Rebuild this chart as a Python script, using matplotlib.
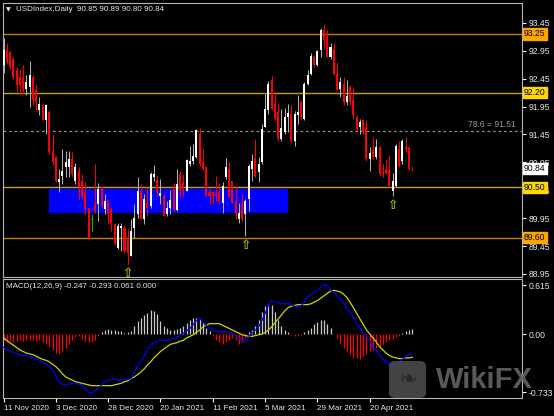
import matplotlib
matplotlib.use("Agg")
import matplotlib.pyplot as plt
import matplotlib.transforms as mtransforms
from matplotlib.patches import Rectangle, FancyBboxPatch

plt.rcParams['font.family'] = ['Liberation Sans', 'DejaVu Sans']

# ---------------- data ----------------
opens = [92.69, 92.96, 92.93, 92.81, 92.60, 92.48, 92.48, 92.27, 92.30, 92.48,
         92.24, 91.89, 91.97, 91.70, 91.85, 91.16, 91.04, 90.59, 90.71, 90.86,
         90.86, 91.01, 90.62, 90.80, 90.62, 90.41, 90.14, 89.92, 90.20, 90.20,
         90.50, 90.11, 90.26, 90.11, 89.84, 89.42, 89.78, 89.78, 89.60, 89.27,
         89.78, 90.02, 90.44, 89.93, 90.23, 90.17, 90.68, 90.64, 90.34, 90.35,
         90.03, 90.14, 90.53, 90.09, 90.74, 90.59, 90.44, 90.92, 90.98, 91.05,
         91.46, 90.95, 90.86, 90.41, 90.41, 90.38, 90.41, 90.23, 90.68, 90.83,
         90.62, 90.26, 89.93, 90.20, 90.02, 90.29, 90.83, 91.03, 90.77, 90.95,
         91.59, 91.88, 92.42, 92.00, 91.85, 91.37, 91.49, 91.76, 91.82, 91.33,
         91.79, 92.03, 91.73, 92.36, 92.54, 92.84, 92.69, 92.96, 93.33, 93.20,
         92.84, 92.99, 92.54, 92.27, 92.36, 92.03, 92.30, 92.06, 91.76, 91.59,
         91.70, 91.58, 91.01, 91.17, 91.04, 91.23, 90.77, 90.83, 90.81, 90.44,
         90.53, 91.19, 90.98, 91.22, 91.22, 90.85]
highs = [93.17, 93.09, 92.97, 92.84, 92.66, 92.63, 92.69, 92.51, 92.76, 92.51,
         92.33, 92.12, 92.00, 92.00, 91.88, 91.46, 91.07, 90.83, 91.19, 91.16,
         91.16, 91.13, 90.93, 90.86, 90.74, 90.59, 90.14, 90.02, 90.92, 90.58,
         90.53, 90.38, 90.29, 90.14, 89.87, 89.87, 89.87, 89.81, 89.75, 89.93,
         90.20, 90.68, 90.56, 90.38, 90.50, 90.77, 90.91, 90.71, 90.65, 90.38,
         90.26, 90.46, 90.56, 90.83, 90.80, 90.74, 91.01, 91.25, 91.27, 91.55,
         91.57, 91.19, 90.86, 90.47, 90.44, 90.71, 90.56, 90.59, 91.03, 90.95,
         90.62, 90.53, 90.23, 90.38, 90.29, 90.92, 91.10, 91.37, 91.04, 91.64,
         92.18, 92.41, 92.49, 92.21, 92.00, 91.91, 91.93, 92.00, 91.97, 91.87,
         92.15, 92.06, 92.39, 92.60, 92.91, 92.87, 92.96, 93.35, 93.43, 93.32,
         93.08, 93.08, 92.75, 92.48, 92.48, 92.42, 92.33, 92.30, 91.79, 91.73,
         91.70, 91.70, 91.22, 91.40, 91.37, 91.25, 90.92, 90.99, 91.07, 90.75,
         91.27, 91.34, 91.37, 91.40, 91.23, 90.89]
lows = [92.55, 92.72, 92.63, 92.45, 92.21, 92.15, 92.18, 92.15, 91.95, 91.97,
        91.87, 91.79, 91.70, 91.46, 91.10, 90.92, 90.59, 90.41, 90.56, 90.68,
        90.68, 90.68, 90.56, 90.29, 90.29, 90.02, 89.57, 89.72, 90.05, 89.90,
        90.14, 90.02, 89.84, 89.72, 89.47, 89.39, 89.36, 89.33, 89.12, 89.27,
        89.60, 89.96, 89.93, 89.85, 89.99, 90.14, 90.62, 90.35, 90.20, 89.99,
        89.99, 90.02, 90.08, 90.08, 90.32, 90.32, 90.44, 90.89, 90.92, 91.03,
        90.89, 90.82, 90.35, 90.20, 90.20, 90.26, 90.20, 90.05, 90.65, 90.32,
        90.23, 89.93, 89.87, 89.90, 89.63, 90.08, 90.62, 90.68, 90.59, 90.92,
        91.58, 91.82, 91.88, 91.70, 91.33, 91.34, 91.46, 91.49, 91.31, 91.25,
        91.63, 91.73, 91.71, 92.33, 92.51, 92.66, 92.67, 92.84, 92.99, 92.84,
        92.81, 92.51, 92.24, 92.12, 91.97, 91.97, 91.97, 91.73, 91.52, 91.46,
        91.46, 90.98, 90.79, 91.01, 91.01, 90.73, 90.68, 90.74, 90.50, 90.35,
        90.51, 90.86, 90.92, 91.13, 90.81, 90.80]
closes = [92.96, 92.75, 92.66, 92.48, 92.33, 92.33, 92.27, 92.39, 92.51, 92.06,
          92.03, 91.99, 91.70, 91.97, 91.13, 90.95, 90.62, 90.65, 90.80, 90.95,
          91.01, 90.74, 90.86, 90.50, 90.32, 90.11, 89.60, 89.92, 90.08, 90.47,
          90.17, 90.26, 90.02, 89.87, 89.48, 89.81, 89.81, 89.36, 89.33, 89.72,
          89.96, 90.44, 89.93, 90.29, 90.14, 90.74, 90.74, 90.41, 90.40, 89.99,
          90.14, 90.28, 90.11, 90.56, 90.44, 90.47, 91.00, 90.98, 91.06, 91.53,
          90.92, 90.83, 90.35, 90.34, 90.35, 90.35, 90.26, 90.53, 90.86, 90.32,
          90.23, 90.02, 90.05, 89.93, 90.26, 90.89, 90.98, 90.71, 90.92, 91.55,
          91.91, 92.35, 91.91, 91.73, 91.37, 91.57, 91.76, 91.83, 91.33, 91.82,
          91.85, 91.76, 92.36, 92.52, 92.85, 92.69, 92.95, 93.32, 93.15, 92.84,
          93.01, 92.54, 92.24, 92.39, 92.03, 92.13, 92.03, 91.79, 91.55, 91.67,
          91.49, 91.01, 91.11, 91.04, 91.22, 90.74, 90.74, 90.75, 90.52, 90.62,
          91.25, 90.89, 91.34, 91.19, 90.83, 90.84]

macd_line = [-0.17, -0.20, -0.22, -0.23, -0.25, -0.26, -0.27, -0.27, -0.28, -0.30,
             -0.31, -0.33, -0.35, -0.38, -0.41, -0.45, -0.52, -0.60, -0.63, -0.64,
             -0.63, -0.62, -0.62, -0.63, -0.64, -0.68, -0.73, -0.74, -0.72, -0.68,
             -0.64, -0.60, -0.58, -0.57, -0.57, -0.58, -0.58, -0.57, -0.57, -0.56,
             -0.48, -0.40, -0.34, -0.28, -0.20, -0.15, -0.11, -0.09, -0.08, -0.08,
             -0.08, -0.07, -0.06, -0.04, -0.01, 0.01, 0.04, 0.07, 0.12, 0.17,
             0.20, 0.15, 0.11, 0.08, 0.05, 0.04, 0.03, 0.03, 0.03, 0.02,
             0.01, -0.02, -0.05, -0.08, -0.10, -0.04, 0.01, 0.05, 0.09, 0.17,
             0.26, 0.36, 0.42, 0.40, 0.39, 0.38, 0.38, 0.39, 0.37, 0.35,
             0.34, 0.35, 0.40, 0.47, 0.50, 0.52, 0.55, 0.59, 0.62, 0.61,
             0.56, 0.52, 0.48, 0.44, 0.39, 0.33, 0.27, 0.21, 0.14, 0.07,
             0.02, -0.03, -0.09, -0.16, -0.21, -0.26, -0.31, -0.35, -0.38, -0.39,
             -0.38, -0.35, -0.32, -0.28, -0.26, -0.247]
signal_line = [-0.05, -0.08, -0.11, -0.14, -0.17, -0.20, -0.22, -0.24, -0.25, -0.26,
               -0.28, -0.30, -0.32, -0.33, -0.35, -0.38, -0.41, -0.45, -0.50, -0.54,
               -0.56, -0.58, -0.60, -0.61, -0.62, -0.63, -0.64, -0.65, -0.65, -0.65,
               -0.65, -0.65, -0.65, -0.65, -0.64, -0.63, -0.62, -0.60, -0.59, -0.56,
               -0.54, -0.51, -0.48, -0.44, -0.39, -0.35, -0.30, -0.26, -0.22, -0.19,
               -0.16, -0.13, -0.12, -0.11, -0.09, -0.08, -0.05, -0.03, -0.01, 0.02,
               0.05, 0.09, 0.11, 0.13, 0.13, 0.13, 0.13, 0.11, 0.09, 0.07,
               0.05, 0.03, 0.01, -0.01, -0.02, -0.03, -0.03, -0.02, -0.01, 0.00,
               0.02, 0.05, 0.09, 0.14, 0.19, 0.24, 0.29, 0.33, 0.35, 0.36,
               0.37, 0.37, 0.37, 0.37, 0.38, 0.40, 0.42, 0.45, 0.48, 0.51,
               0.54, 0.55, 0.54, 0.53, 0.50, 0.46, 0.40, 0.33, 0.26, 0.19,
               0.12, 0.05, 0.00, -0.05, -0.10, -0.16, -0.20, -0.24, -0.27, -0.29,
               -0.30, -0.31, -0.31, -0.30, -0.30, -0.293]
hist = [-0.08, -0.10, -0.09, -0.10, -0.09, -0.08, -0.09, -0.08, -0.07, -0.08,
        -0.09, -0.08, -0.10, -0.13, -0.16, -0.20, -0.24, -0.25, -0.22, -0.17,
        -0.12, -0.07, -0.04, -0.03, -0.06, -0.09, -0.10, -0.10, -0.08, -0.03,
        0.03, 0.05, 0.06, 0.05, 0.05, 0.04, 0.04, 0.01, 0.02, 0.04,
        0.10, 0.16, 0.20, 0.24, 0.27, 0.30, 0.29, 0.25, 0.16, 0.10,
        0.07, 0.05, 0.05, 0.06, 0.08, 0.10, 0.14, 0.18, 0.20, 0.20,
        0.19, 0.15, 0.08, 0.04, -0.03, -0.08, -0.10, -0.12, -0.10, -0.08,
        -0.05, -0.08, -0.12, -0.10, -0.05, 0.02, 0.05, 0.10, 0.18, 0.28,
        0.35, 0.38, 0.36, 0.28, 0.18, 0.10, 0.05, 0.02, -0.01, -0.02,
        -0.02, -0.01, 0.02, 0.05, 0.08, 0.12, 0.15, 0.17, 0.17, 0.13,
        0.08, 0.00, -0.05, -0.12, -0.17, -0.22, -0.25, -0.30, -0.30, -0.32,
        -0.28, -0.25, -0.22, -0.20, -0.18, -0.15, -0.12, -0.10, -0.08, -0.06,
        -0.04, -0.02, 0.01, 0.04, 0.05, 0.061]

date_labels = ["11 Nov 2020", "3 Dec 2020", "28 Dec 2020", "20 Jan 2021",
               "11 Feb 2021", "5 Mar 2021", "29 Mar 2021", "20 Apr 2021"]
date_label_bars = [0, 16, 32, 48, 64, 80, 96, 112]

price_ticks = [88.95, 89.45, 89.95, 90.45, 90.95, 91.45, 91.95, 92.45, 92.95, 93.45]
macd_ticks = [0.615, 0.0, -0.733]
macd_tick_labels = ["0.615", "0.00", "-0.733"]

levels = [93.25, 92.20, 90.50, 89.60]
level_line_colors = ["#c87800", "#c8a000", "#c8a000", "#c87800"]
level_box_colors = ["#ffa500", "#ffd700", "#ffd700", "#ffa500"]
fib_level = 91.51
fib_text = "78.6 = 91.51"
zone_low, zone_high = 90.05, 90.47
zone_start_bar, zone_end_bar = 14, 87
arrow_bars = [38, 74, 119]

title_text = "USDIndex,Daily  90.85 90.89 90.80 90.84"
macd_title = "MACD(12,26,9) -0.247 -0.293 0.061 0.000"

# ---------------- layout ----------------
W, H = 554, 416
fig = plt.figure(figsize=(W / 100, H / 100), dpi=100, facecolor="black")


def px_axes(x0, y0, x1, y1):
    return fig.add_axes([x0 / W, 1 - y1 / H, (x1 - x0) / W, (y1 - y0) / H])


FS = 6.2
FS_SMALL = 5.8
TXT = "#e6e6e6"
SPINE = "#b4b4b4"
PX_PER_BAR = 3.27
X0 = 3.5  # pixel x of bar 0

ax = px_axes(3, 3, 522, 277)
ax2 = px_axes(3, 279, 522, 398)

xmin = (3 - X0) / PX_PER_BAR
xmax = (522 - X0) / PX_PER_BAR
for a in (ax, ax2):
    a.set_facecolor("black")
    a.set_xlim(xmin, xmax)
    for s in a.spines.values():
        s.set_color(SPINE)
        s.set_linewidth(0.8)

PPU = 55.8
ax.set_ylim(93.25 - (277 - 34) / PPU, 93.25 + (34 - 3) / PPU)

bars = list(range(len(closes)))

ax.add_patch(Rectangle((zone_start_bar, zone_low), zone_end_bar - zone_start_bar,
                       zone_high - zone_low, facecolor="#0000ff", edgecolor="none", zorder=1))

for lv, lc in zip(levels, level_line_colors):
    ax.axhline(lv, color=lc, lw=1.0, zorder=2)
ax.axhline(fib_level, color="#8c8c8c", lw=0.9, ls=(0, (2.2, 2.2)), zorder=2)
ax.text(xmax - 1.8, fib_level + 0.03, fib_text, color="#9a9a9a", fontsize=FS,
        ha="right", va="bottom", zorder=3)

for i, o, h, l, c in zip(bars, opens, highs, lows, closes):
    if c > o:
        body_col, wick_col = "#ffffff", "#b0b0b0"
    elif c < o:
        body_col, wick_col = "#ff0000", "#ff0000"
    else:
        body_col, wick_col = "#00c000", "#00c000"
    ax.vlines(i, l, h, color=wick_col, lw=0.75, zorder=4)
    bot = min(o, c)
    hgt = max(abs(c - o), 0.012)
    ax.bar(i, hgt, bottom=bot, width=0.62, color=body_col, linewidth=0, zorder=5)

for b in arrow_bars:
    ax.text(b, lows[b] - 0.05, "\u21e7", color="#b8b800", fontsize=9, ha="center",
            va="top", zorder=6, fontweight="bold", family="DejaVu Sans")

ax.yaxis.tick_right()
ax.set_yticks(price_ticks)
ax.set_yticklabels([f"{v:.2f}" for v in price_ticks])
ax.tick_params(axis="y", colors=TXT, labelsize=FS, length=3, width=0.8, pad=2,
               direction="out")
ax.tick_params(axis="y", color="#ffffff")
ax.set_xticks([])

blend = mtransforms.blended_transform_factory(ax.transAxes, ax.transData)
for lv, bc in zip(levels, level_box_colors):
    ax.text(1.004, lv, f"{lv:.2f}", transform=blend, color="black", fontsize=FS,
            ha="left", va="center", clip_on=False, zorder=10,
            bbox=dict(boxstyle="square,pad=0.12", fc=bc, ec=bc))
ax.text(1.004, closes[-1], f"{closes[-1]:.2f}", transform=blend, color="black",
        fontsize=FS, ha="left", va="center", clip_on=False, zorder=10,
        bbox=dict(boxstyle="square,pad=0.12", fc="white", ec="white"))

ax.text(0.006, 0.983, "\u25bc", transform=ax.transAxes, color=TXT, fontsize=4.5,
        ha="left", va="top", family="DejaVu Sans")
ax.text(0.026, 0.99, title_text, transform=ax.transAxes, color=TXT, fontsize=FS_SMALL,
        ha="left", va="top")

# ---------------- MACD panel ----------------
MPU = 79.5
ax2.set_ylim(-(398 - 334) / MPU, (334 - 279) / MPU)
for i, v in zip(bars, hist):
    ax2.vlines(i, 0, v, color="#c8c8c8" if v > 0 else "#ff0000", lw=0.9, zorder=2)
ax2.plot(bars, signal_line, color="#d2d200", lw=0.9, zorder=3)
ax2.plot(bars, macd_line, color="#0000ff", lw=0.9, zorder=4)

ax2.yaxis.tick_right()
ax2.set_yticks(macd_ticks)
ax2.set_yticklabels(macd_tick_labels)
ax2.tick_params(axis="y", colors=TXT, labelsize=FS, length=3, width=0.8, pad=2)
ax2.tick_params(axis="y", color="#ffffff")
ax2.set_xticks(date_label_bars)
ax2.set_xticklabels(date_labels)
ax2.tick_params(axis="x", colors=TXT, labelsize=FS_SMALL, length=3, width=0.8, pad=2)
ax2.tick_params(axis="x", color="#ffffff")
for lbl in ax2.get_xticklabels():
    lbl.set_ha("left")

ax2.text(0.006, 0.965, macd_title, transform=ax2.transAxes, color=TXT, fontsize=FS_SMALL,
         ha="left", va="top")

# watermark
fig.patches.append(FancyBboxPatch((389 / W, 1 - 398 / H), 37 / W, 37 / H,
                                  boxstyle="round,pad=0,rounding_size=0.012",
                                  transform=fig.transFigure, fc="#5a5a5a",
                                  ec="none", alpha=0.75, zorder=20))
fig.text(407.5 / W, 1 - 380 / H, "\u2767", color="#2a2a2a", fontsize=16, ha="center",
         va="center", zorder=21, family="DejaVu Sans")
fig.text(436 / W, 1 - 380 / H, "WikiFX", color="#6a6a6a", fontsize=21,
         fontweight="bold", ha="left", va="center", alpha=0.85, zorder=21)

fig.savefig("out.png", dpi=100, facecolor="black")
